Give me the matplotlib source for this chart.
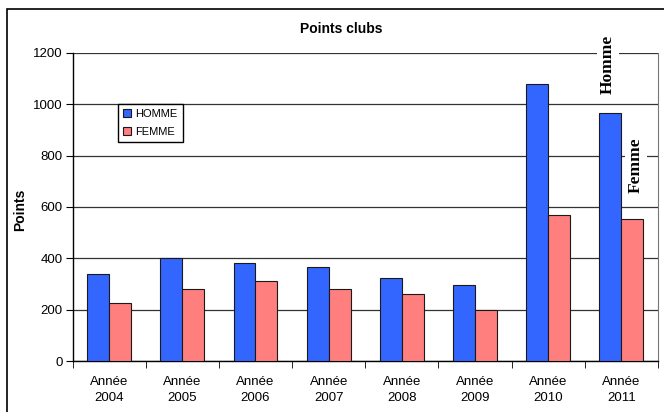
import numpy as np
import matplotlib
matplotlib.use("Agg")
import matplotlib.pyplot as plt
from matplotlib.patches import Rectangle

years = ["2004", "2005", "2006", "2007", "2008", "2009", "2010", "2011"]
homme = [340, 400, 380, 365, 323, 297, 1080, 965]
femme = [225, 280, 310, 280, 260, 200, 570, 555]

plt.rcParams["font.family"] = ["Liberation Sans", "DejaVu Sans"]

fig = plt.figure(figsize=(6.64, 4.12), dpi=100)
ax = fig.add_axes([72.5 / 664, 51 / 412, 585.5 / 664, 308 / 412])

# outer chart frame
fig.patches.append(Rectangle((7 / 664, -0.1), 1.2, (412 - 9) / 412 + 0.1,
                             transform=fig.transFigure, fill=False,
                             edgecolor="black", linewidth=1.2))

x = np.arange(len(years))
w = 0.30
ax.bar(x - w / 2, homme, w, color="#3366FF", edgecolor="#1a1a1a", linewidth=0.8,
       label="HOMME", zorder=3)
ax.bar(x + w / 2, femme, w, color="#FF7F7F", edgecolor="#1a1a1a", linewidth=0.8,
       label="FEMME", zorder=3)

ax.set_xlim(-0.5, len(years) - 0.5)
ax.set_ylim(0, 1200)
ax.set_yticks(range(0, 1201, 200))
ax.yaxis.grid(True, color="#333333", linewidth=0.9, zorder=0)
ax.set_axisbelow(True)

ax.set_xticks(x)
ax.set_xticklabels(["Année\n" + y for y in years], fontsize=9.5, linespacing=1.45)
ax.set_xticks(np.arange(-0.5, len(years)), minor=True)
ax.tick_params(axis="x", which="major", length=0, pad=11)
ax.tick_params(axis="x", which="minor", length=5, direction="out")
ax.tick_params(axis="y", labelsize=9.5, length=5, direction="out", pad=2)

ax.spines["top"].set_visible(False)
ax.spines["right"].set_color("#777777")
ax.spines["left"].set_linewidth(1.0)
ax.spines["bottom"].set_linewidth(1.0)

fig.text(341 / 664, 1 - 29 / 412, "Points clubs", ha="center", va="center",
         fontsize=10, fontweight="bold")
fig.text(20 / 664, 1 - 210 / 412, "Points", ha="center", va="center",
         rotation=90, fontsize=10, fontweight="bold")

ax.legend(loc="upper left", bbox_to_anchor=(0.078, 0.835), borderaxespad=0,
          fontsize=8, frameon=True, fancybox=False, edgecolor="black",
          framealpha=1, handlelength=0.7, handleheight=0.7, handletextpad=0.4,
          borderpad=0.45, labelspacing=0.7)

bbox = dict(facecolor="white", edgecolor="none", pad=2)
fig.text(608 / 664, 1 - 64 / 412, "Homme", rotation=90, ha="center", va="center",
         fontsize=12.5, fontweight="bold", family=["Liberation Serif"], bbox=bbox)
fig.text(636 / 664, 1 - 165 / 412, "Femme", rotation=90, ha="center", va="center",
         fontsize=12.5, fontweight="bold", family=["Liberation Serif"], bbox=bbox)

fig.savefig("out.png", dpi=100)
